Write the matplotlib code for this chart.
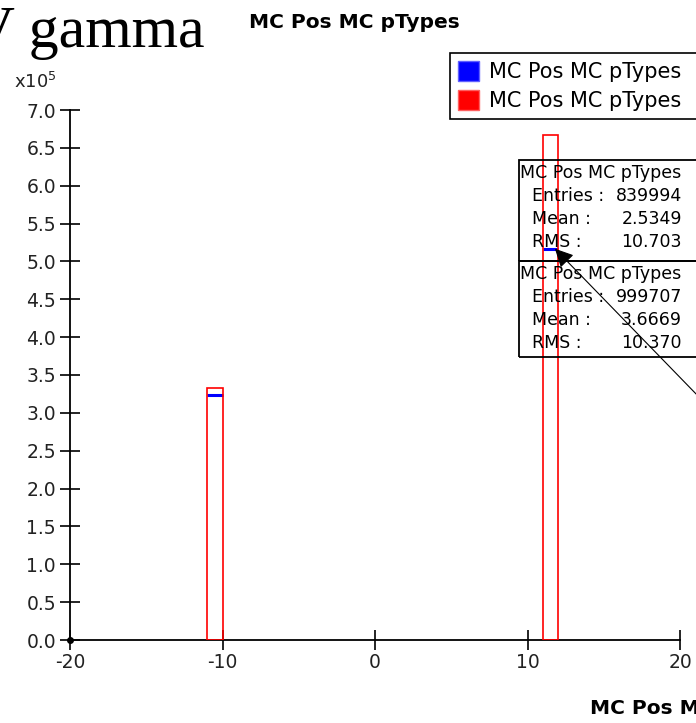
import matplotlib
matplotlib.use("Agg")
import matplotlib.pyplot as plt
from matplotlib.patches import Patch, Rectangle
from matplotlib.ticker import FuncFormatter, MultipleLocator

# ── Data ──────────────────────────────────────────────────────────────────────
BIN_LEFT      = [-11, 11]               # bins of width 1
COUNTS_BLUE   = [323210, 516785]
COUNTS_RED    = [333200, 666500]
HIST_NAME     = "MC Pos MC pTypes"
STATS_BLUE    = [("Entries :", "839994"), ("Mean :", "2.5349"), ("RMS :", "10.703")]
STATS_RED     = [("Entries :", "999707"), ("Mean :", "3.6669"), ("RMS :", "10.370")]
X_TICKS       = [-20, -10, 0, 10, 20]
# ─────────────────────────────────────────────────────────────────────────────

W, H = 696, 723
plt.rcParams["font.family"] = "DejaVu Sans"
plt.rcParams["axes.unicode_minus"] = False


def fx(px):
    return px / W


def fy(py):
    return 1 - py / H


fig = plt.figure(figsize=(W / 100, H / 100), dpi=100)
ax = fig.add_axes([fx(70), fy(640), fx(680) - fx(70), fy(110) - fy(640)])

# blue histogram: its side edges coincide with the red ones, so only the tops show
left = [b for b in BIN_LEFT]
right = [b + 1 for b in BIN_LEFT]
ax.hlines(COUNTS_BLUE, left, right, colors="#0000ff", linewidth=2.2, zorder=2)
ax.bar(BIN_LEFT, COUNTS_RED, width=1, align="edge", fill=False,
       edgecolor="#ff0000", linewidth=1.2, zorder=3)

ax.set_xlim(-20, 20)
ax.set_ylim(0, 7e5)
ax.set_xticks(X_TICKS)
ax.yaxis.set_major_locator(MultipleLocator(0.5e5))
ax.yaxis.set_major_formatter(FuncFormatter(lambda v, p: f"{v / 1e5:.1f}"))
ax.tick_params(direction="inout", length=14, width=1.2, labelsize=13.5,
               colors="black", labelcolor="#222222")
ax.tick_params(axis="x", pad=2)
ax.tick_params(axis="y", pad=3)
for side in ["top", "right"]:
    ax.spines[side].set_visible(False)
for side in ["left", "bottom"]:
    ax.spines[side].set_linewidth(1.3)
ax.plot([-20], [0], "o", color="black", markersize=4, clip_on=False, zorder=5)

# exponent label above the y axis
fig.text(fx(14), fy(82), r"x10$^5$", fontsize=13, color="#222222", va="center")

# titles
fig.text(fx(205), fy(47), "MeV gamma", family="Liberation Serif",
         fontsize=43, ha="right", va="baseline")
fig.text(fx(354), fy(22), HIST_NAME, fontsize=14.5, fontweight="bold",
         ha="center", va="center")
fig.text(fx(590), fy(708), HIST_NAME, fontsize=14.5, fontweight="bold",
         ha="left", va="center")

# legend, running off the right edge
handles = [Patch(facecolor="#0000ff", edgecolor="#6060ff", label=HIST_NAME),
           Patch(facecolor="#ff0000", edgecolor="#ff6060", label=HIST_NAME)]
leg = fig.legend(handles=handles, loc="upper left",
                 bbox_to_anchor=(fx(450), fy(130), fx(300), fy(53) - fy(130)),
                 mode="expand", borderaxespad=0,
                 fontsize=15, fancybox=False, framealpha=1,
                 edgecolor="black", handlelength=1.0, handleheight=1.1,
                 handletextpad=0.45, labelspacing=0.35, borderpad=0.4)
leg.get_frame().set_linewidth(1.2)

# statistics boxes
box_l, box_r = 519, 760
sections = [(160, 261, STATS_BLUE), (261, 357, STATS_RED)]
for top, bottom, rows in sections:
    fig.add_artist(Rectangle((fx(box_l), fy(bottom)), fx(box_r) - fx(box_l),
                             fy(top) - fy(bottom), transform=fig.transFigure,
                             fill=False, edgecolor="black", linewidth=1.3,
                             zorder=1))
    fig.text(fx(520), fy(top + 13), HIST_NAME, fontsize=12.5, va="center")
    for i, (name, val) in enumerate(rows):
        y = top + 36 + i * 23
        fig.text(fx(532), fy(y), name, fontsize=12.5, va="center")
        fig.text(fx(682), fy(y), val, fontsize=12.5, va="center", ha="right")

# arrow pointing at the blue bin top
ax.annotate("", xy=(11.8, COUNTS_BLUE[1]), xycoords="data",
            xytext=(fx(700), fy(398)), textcoords="figure fraction",
            arrowprops=dict(arrowstyle="-|>", color="black", lw=0.8,
                            mutation_scale=28, shrinkA=0, shrinkB=0),
            annotation_clip=False, zorder=6)

fig.savefig("out.png", dpi=100, facecolor="white")
